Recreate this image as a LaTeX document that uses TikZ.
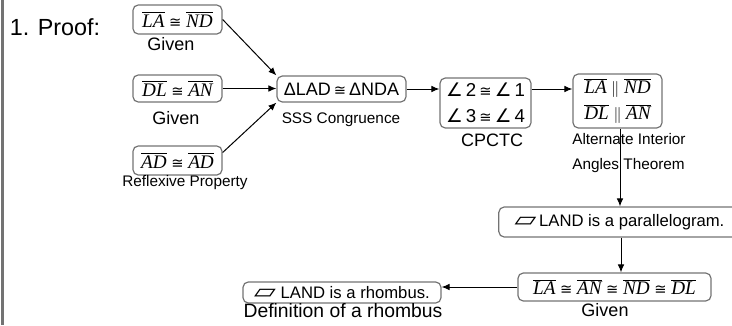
\documentclass[tikz,border=0pt]{standalone}
\usepackage{fontspec}
\setmainfont{Liberation Sans}
\newfontfamily\tmsfont[Scale=1.15]{Liberation Serif}
\newfontfamily\symfont{DejaVu Sans}
\usetikzlibrary{arrows.meta,positioning,calc}

\newcommand{\seg}[1]{\ensuremath{\overline{\mbox{\tmsfont\itshape #1}}}}
\newcommand{\pgram}{\scalebox{1.7}[1.25]{\symfont ▱}}
\newcommand{\ang}{{\symfont ∠}}
\newcommand{\cng}{{\symfont\fontsize{11}{11}\selectfont ≅}}

\begin{document}
\begin{tikzpicture}[x=0.75pt,y=-0.75pt,
  stmt/.style={draw=black!55, line width=0.9pt, rounded corners=4pt, inner sep=1pt,
    align=center, font=\fontsize{12.5}{19}\selectfont},
  rsn/.style={inner sep=0pt, font=\fontsize{13.5}{16}\selectfont},
  rsnsmall/.style={inner sep=0pt, align=left, font=\fontsize{11.5}{18.5}\selectfont},
  flow/.style={-{Latex[length=6pt,width=5pt]}, line width=0.75pt}]
  \useasboundingbox (0,0) rectangle (732,325);
  \clip (0,0) rectangle (732,325);

  % left margin bar
  \fill[black!55] (1,0) rectangle (4,325);
  \node[font=\fontsize{17.5}{20}\selectfont] (title) at (55,27) {1. Proof:};

  % Givens
  \node[stmt, minimum width=66.8pt, minimum height=21.8pt] (given1) at (177.5,19.5) {\seg{LA} \cng{} \seg{ND}};
  \node[rsn] (rgiven1) at (171,44) {Given};
  \node[stmt, minimum width=66.8pt, minimum height=20.3pt] (given2) at (177.5,88.5) {\seg{DL} \cng{} \seg{AN}};
  \node[rsn] (rgiven2) at (176,118) {Given};
  \node[stmt, minimum width=66.8pt, minimum height=21.8pt] (refl) at (177.5,160.5) {\seg{AD} \cng{} \seg{AD}};
  \node[rsnsmall] (rrefl) at (185,183) {Reflexive Property};

  % Triangles and parts
  \node[stmt, minimum width=96.8pt, minimum height=19.5pt, font=\fontsize{13.5}{19}\selectfont] (sss) at (341.5,89) {ΔLAD\,\cng\,ΔNDA};
  \node[rsnsmall] (rsss) at (341,120) {SSS Congruence};
  \node[stmt, minimum width=68.3pt, minimum height=37.5pt, font=\fontsize{14}{19.5}\selectfont] (cpctc) at (485.5,103)
    {\ang\,2\,\cng\,\ang\,1\\ \ang\,3\,\cng\,\ang\,4};
  \node[rsn] (rcpctc) at (492,140) {CPCTC};
  \node[stmt, minimum width=66.8pt, minimum height=40.5pt] (para) at (617.5,101)
    {\seg{LA} $\parallel$ \seg{ND}\\ \seg{DL} $\parallel$ \seg{AN}};
  \node[rsnsmall, anchor=north west] (rpara) at (572,133) {Alternate Interior\\ Angles Theorem};

  % Parallelogram and rhombus
  \node[stmt, minimum width=181pt, minimum height=22.5pt] (pgram) at (619.5,222) {\pgram\,LAND is a parallelogram.};
  \node[stmt, minimum width=144.8pt, minimum height=21pt] (sides) at (614.5,287)
    {\seg{LA} \cng{} \seg{AN} \cng{} \seg{ND} \cng{} \seg{DL}};
  \node[rsn] (rsides) at (605,310) {Given};
  \node[stmt, minimum width=148.5pt, minimum height=15.8pt] (rhombus) at (342,292.5) {\pgram\ LAND is a rhombus.};
  \node[rsn, font=\fontsize{14.5}{16}\selectfont] (rrhombus) at (343,311) {Definition of a rhombus};

  % Connectors
  \draw[flow] (given1.east) -- (sss.north west);
  \draw[flow] (given2.east) -- (given2.east -| sss.west);
  \draw[flow] (refl.10) -- (sss.south west);
  \draw[flow] (sss.east) -- (sss.east -| cpctc.west);
  \draw[flow] (sss.east -| cpctc.east) -- (sss.east -| para.west);
  \draw[flow] ($(para.south)+(2.5,0)$) -- ($(para.south |- pgram.north)+(2.5,0)$);
  \draw[flow] ($(pgram.south)+(1.5,0)$) -- ($(pgram.south |- sides.north)+(1.5,0)$);
  \draw[flow] (sides.west) -- (sides.west -| rhombus.east);
\end{tikzpicture}
\end{document}
